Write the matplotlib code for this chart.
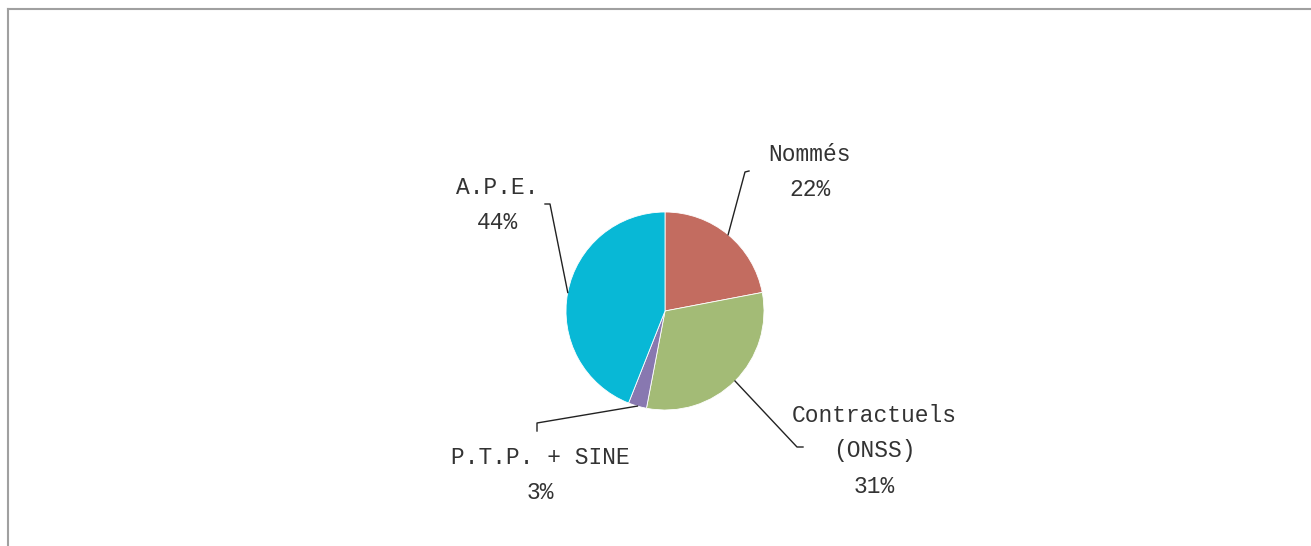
import numpy as np
import matplotlib.pyplot as plt
from matplotlib.lines import Line2D

# data
labels = ['Nommés', 'Contractuels\n(ONSS)', 'P.T.P. + SINE', 'A.P.E.']
shares = [22, 31, 3, 44]
colors = ['#C36C60', '#A3BB76', '#8878B0', '#08B8D6']

# label text centre (pixel coords, from top) and leader elbow points
text_pos = [(810, 172), (874, 451), (540, 475), (497, 205)]
elbows = [[(745, 172), (749, 171)],
          [(797, 447), (803, 447)],
          [(537, 423), (537, 431)],
          [(550, 204), (545, 204)]]

W, H = 1311, 546
fig = plt.figure(figsize=(W / 100, H / 100), dpi=100)
ax = fig.add_axes([0, 0, 1, 1])

cx, cy, r = 665, 311, 99
wedges, _ = ax.pie(shares, colors=colors, startangle=90, counterclock=False,
                   center=(cx, H - cy), radius=r,
                   wedgeprops=dict(linewidth=0.6, edgecolor='white'))
ax.set_xlim(0, W)
ax.set_ylim(0, H)
ax.set_aspect('equal')
ax.axis('off')

for w, lab, val, tp, el in zip(wedges, labels, shares, text_pos, elbows):
    ang = np.deg2rad((w.theta1 + w.theta2) / 2)
    x0 = cx + r * np.cos(ang)
    y0 = (H - cy) + r * np.sin(ang)
    xs = [x0] + [p[0] for p in el]
    ys = [y0] + [H - p[1] for p in el]
    ax.plot(xs, ys, color='#222222', linewidth=1.0)
    ax.text(tp[0], H - tp[1], f'{lab}\n{val}%', ha='center', va='center',
            fontsize=16.5, family='Liberation Mono', color='#333333',
            linespacing=1.7)

# grey frame around the chart area
fig.add_artist(Line2D([8 / W, 1], [1 - 9 / H, 1 - 9 / H], transform=fig.transFigure,
                      color='#A0A0A0', linewidth=1.5))
fig.add_artist(Line2D([8 / W, 8 / W], [0, 1 - 9 / H], transform=fig.transFigure,
                      color='#A0A0A0', linewidth=1.5))

fig.savefig('out.png', dpi=100, facecolor='white')
